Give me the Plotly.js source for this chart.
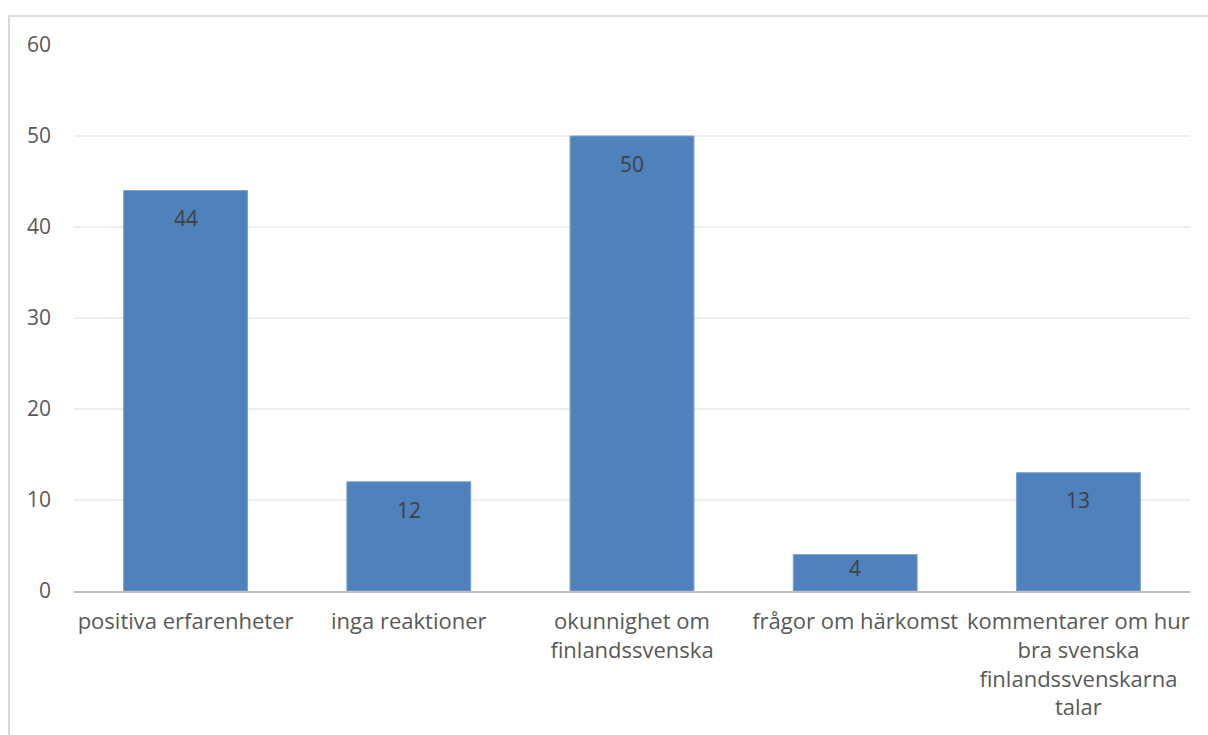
<!DOCTYPE html>
<html>
<head>
<meta charset="utf-8">
<script src="https://cdn.plot.ly/plotly-3.0.1.min.js"></script>
<style>
  html, body { margin: 0; padding: 0; background: #ffffff; }
  #wrap { position: relative; width: 1208px; height: 735px; overflow: hidden; }
  #chart { position: absolute; left: 0; top: 0; width: 1208px; height: 735px; }
  #frame { position: absolute; left: 8px; top: 15px; width: 1210px; height: 730px;
           border-left: 2px solid #d9d9d9; border-top: 2px solid #d9d9d9; pointer-events: none; }
</style>
</head>
<body>
<div id="wrap">
  <div id="chart"></div>
  <div id="frame"></div>
</div>
<script>
// Answer categories (wrapped across lines as on the axis)
const categories = [
  "positiva erfarenheter",
  "inga reaktioner",
  "okunnighet om<br>finlandssvenska",
  "frågor om härkomst",
  "kommentarer om hur<br>bra svenska<br>finlandssvenskarna<br>talar"
];
// Number of answers per category
const counts = [44, 12, 50, 4, 13];
// Value axis ticks
const yTicks = [0, 10, 20, 30, 40, 50, 60];

const FONT = "'Open Sans', 'Noto Sans', sans-serif";

const trace = {
  type: "bar",
  x: categories,
  y: counts,
  marker: { color: "#4f81bd", line: { color: "#7ea2cf", width: 1 } },
  hoverinfo: "x+y"
};

// Value labels sit inside each bar, just under its top edge
const labels = categories.map((c, i) => ({
  x: c,
  y: Math.max(counts[i] - 3.05, counts[i] * 0.62),
  xref: "x", yref: "y",
  text: String(counts[i]),
  showarrow: false,
  yanchor: "middle",
  font: { family: FONT, size: 21, color: "#404040" }
}));

const layout = {
  width: 1208,
  height: 735,
  margin: { l: 74, r: 18, t: 45, b: 144, pad: 0 },
  paper_bgcolor: "#ffffff",
  plot_bgcolor: "#ffffff",
  showlegend: false,
  bargap: 0.445,
  font: { family: FONT, color: "#595959" },
  xaxis: {
    type: "category",
    showgrid: false,
    zeroline: false,
    showline: true,
    linecolor: "#bfbfbf",
    linewidth: 2,
    ticks: "",
    tickangle: 0,
    ticklabelstandoff: 10,
    tickfont: { family: FONT, size: 22, color: "#595959" },
    fixedrange: true
  },
  yaxis: {
    range: [0, 60],
    tickvals: yTicks,
    ticktext: yTicks.map(String),
    showgrid: true,
    gridcolor: "#eeeeee",
    gridwidth: 1.5,
    zeroline: false,
    showline: false,
    ticks: "",
    ticklabelstandoff: 22,
    tickfont: { family: FONT, size: 21, color: "#595959" },
    fixedrange: true
  },
  annotations: labels
};

Plotly.newPlot("chart", [trace], layout, { displayModeBar: false, staticPlot: true });
</script>
</body>
</html>
